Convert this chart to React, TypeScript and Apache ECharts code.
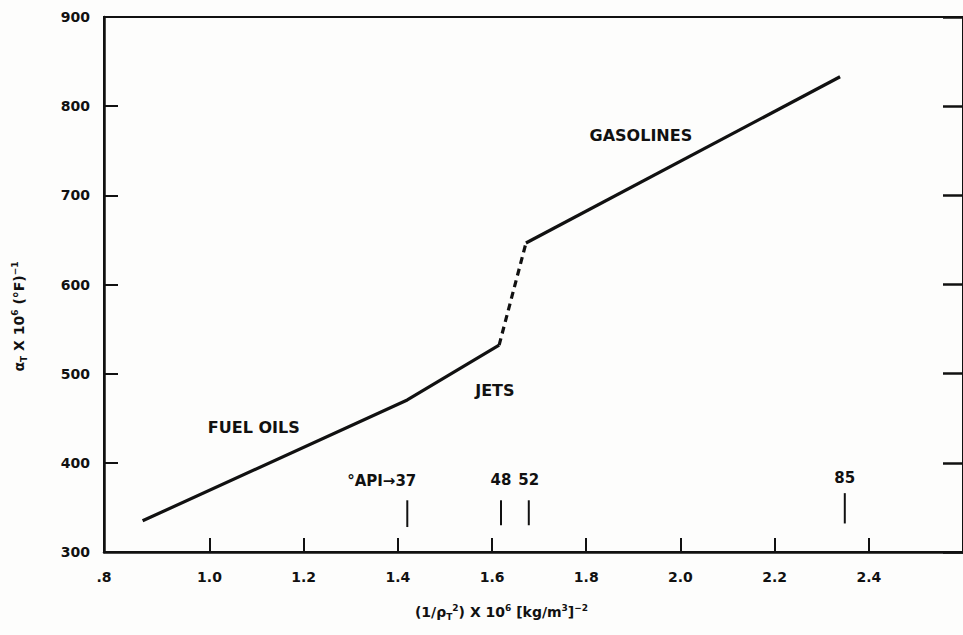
import React, { useEffect, useRef } from "react";
import * as echarts from "echarts";

// Axis ranges and tick labels
const xMin = 0.776;
const xMax = 2.6;
const xTickValues = [1.0, 1.2, 1.4, 1.6, 1.8, 2.0, 2.2, 2.4];
const xMinLabel = ".8";
const yMin = 300;
const yMax = 900;
const yInterval = 100;

// Curve segments (x = (1/rho_T^2) x 10^6, y = alpha_T x 10^6)
const fuelJetX = [0.858, 1.42, 1.615];
const fuelJetY = [335, 470.5, 532];
const transitionX = [1.615, 1.672];
const transitionY = [532, 646.5];
const gasolineX = [1.672, 2.339];
const gasolineY = [646.5, 833];

// °API markers
const apiLabels = ["°API→37", "48", "52", "85"];
const apiX = [1.42, 1.619, 1.678, 2.349];
const apiTickLow = [328, 330, 330, 332];
const apiTickHigh = [358, 358, 358, 366];
const apiLabelY = [380, 381, 381, 383];

// Region labels
const regionNames = ["FUEL OILS", "JETS", "GASOLINES"];
const regionX = [1.094, 1.606, 1.916];
const regionY = [440, 481, 767];

const FONT = "DejaVu Sans";
const INK = "#111111";

export default function App() {
  const ref = useRef<HTMLDivElement>(null);
  useEffect(() => {
    if (!ref.current) return;
    const chart = echarts.init(ref.current, null, { renderer: "svg" });
    const zip = (xs: number[], ys: number[]) => xs.map((x, i) => [x, ys[i]]);
    const lineBase = {
      type: "line" as const,
      symbol: "none",
      silent: true,
      xAxisIndex: 0,
      yAxisIndex: 0,
    };
    const supStyles = {
      t: { fontFamily: FONT, fontWeight: "bold", fontSize: 14, color: INK, verticalAlign: "middle" },
      s: { fontFamily: FONT, fontWeight: "bold", fontSize: 9, color: INK, verticalAlign: "bottom" },
      p: { fontFamily: FONT, fontWeight: "bold", fontSize: 9, color: INK, verticalAlign: "top" },
    };
    chart.setOption({
      animation: false,
      backgroundColor: "#fdfdfc",
      grid: {
        left: 104,
        top: 17,
        bottom: 83,
        right: -8,
        show: true,
        borderColor: INK,
        borderWidth: 2,
        containLabel: false,
      },
      xAxis: [
        {
          type: "value",
          min: xMin,
          max: xMax,
          splitLine: { show: false },
          axisLine: { show: true, lineStyle: { color: INK, width: 2.5 } },
          axisTick: { show: true, inside: true, length: 14, customValues: xTickValues, lineStyle: { color: INK, width: 2 } },
          axisLabel: {
            customValues: [xMin, ...xTickValues],
            formatter: (v: number) => (v < 0.9 ? xMinLabel : v.toFixed(1)),
            margin: 18,
            fontFamily: FONT,
            fontWeight: "bold",
            fontSize: 14,
            color: INK,
          },
          name: "{t|(1/ρ}{s|T}{p|2}{t|) X 10}{p|6}{t| [kg/m}{p|3}{t|]}{p|−2}",
          nameLocation: "middle",
          nameGap: 51,
          nameTextStyle: { lineHeight: 18, padding: [0, 64, 0, 0], rich: supStyles },
        },
      ],
      yAxis: [
        {
          type: "value",
          min: yMin,
          max: yMax,
          interval: yInterval,
          splitLine: { show: false },
          axisLine: { show: true, lineStyle: { color: INK, width: 2.5 } },
          axisTick: { show: true, inside: true, length: 14, lineStyle: { color: INK, width: 2 } },
          axisLabel: {
            margin: 14,
            fontFamily: FONT,
            fontWeight: "bold",
            fontSize: 14,
            color: INK,
          },
          name: "{t|α}{s|T}{t| X 10}{p|6}{t| (°F)}{p|−1}",
          nameLocation: "middle",
          nameGap: 76,
          nameRotate: 90,
          nameTextStyle: { lineHeight: 18, padding: [0, 64, 0, 0], rich: supStyles },
        },
        {
          type: "value",
          position: "right",
          min: yMin,
          max: yMax,
          interval: yInterval,
          splitLine: { show: false },
          axisLine: { show: true, lineStyle: { color: INK, width: 2.5 } },
          axisTick: { show: true, inside: true, length: 20, lineStyle: { color: INK, width: 2.5 } },
          axisLabel: { show: false },
        },
      ],
      series: [
        { ...lineBase, data: zip(fuelJetX, fuelJetY), lineStyle: { color: INK, width: 3.2 } },
        { ...lineBase, data: zip(transitionX, transitionY), lineStyle: { color: INK, width: 3.2, type: [7, 5] } },
        { ...lineBase, data: zip(gasolineX, gasolineY), lineStyle: { color: INK, width: 3.2 } },
        ...apiX.map((x, i) => ({
          ...lineBase,
          data: [
            [x, apiTickLow[i]],
            [x, apiTickHigh[i]],
          ],
          lineStyle: { color: INK, width: 2 },
        })),
        {
          type: "scatter",
          silent: true,
          symbolSize: 0,
          itemStyle: { opacity: 1, color: INK },
          data: apiX.map((x, i) => ({
            value: [x, apiLabelY[i]],
            name: apiLabels[i],
            label: i === 0 ? { align: "right", offset: [9, 0] } : undefined,
          })),
          label: {
            show: true,
            position: "inside",
            formatter: "{b}",
            fontFamily: FONT,
            fontWeight: "bold",
            fontSize: 15,
            color: INK,
            opacity: 1,
          },
        },
        {
          type: "scatter",
          silent: true,
          symbolSize: 0,
          itemStyle: { opacity: 1, color: INK },
          data: regionX.map((x, i) => ({ value: [x, regionY[i]], name: regionNames[i] })),
          label: {
            show: true,
            position: "inside",
            formatter: "{b}",
            fontFamily: FONT,
            fontWeight: "bold",
            fontSize: 16,
            color: INK,
            opacity: 1,
          },
        },
      ],
    });
    return () => chart.dispose();
  }, []);
  return (
    <div
      ref={ref}
      style={{ position: "fixed", left: 0, top: 0, width: 963, height: 635, background: "#fdfdfc" }}
    />
  );
}
